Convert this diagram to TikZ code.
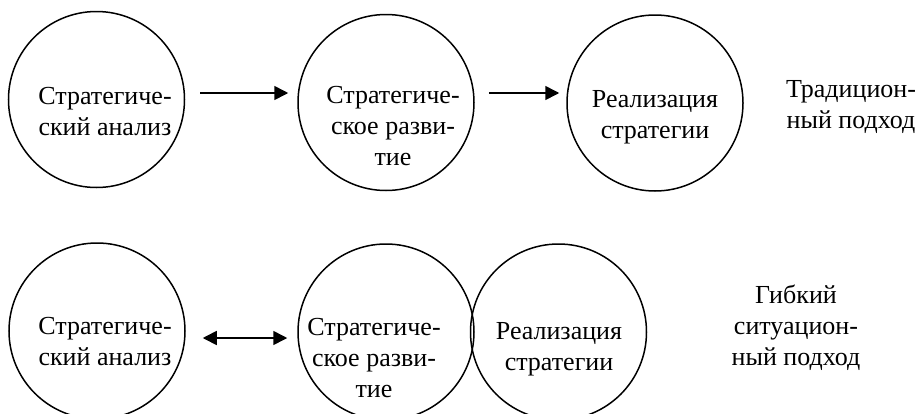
\documentclass[tikz,border=0pt]{standalone}
\usepackage{fontspec}
\setmainfont{Liberation Serif}
\usetikzlibrary{arrows.meta}

\begin{document}
\begin{tikzpicture}[x=1pt,y=-1pt,
  stage/.style={draw,circle,line width=1.5pt,minimum size=176pt,inner sep=0pt},
  txt/.style={align=center,font=\fontsize{26}{31}\selectfont,anchor=base},
  arr/.style={-{Triangle[length=14pt,width=14pt]},line width=1.6pt},
  darr/.style={{Triangle[length=14pt,width=14pt]}-{Triangle[length=14pt,width=14pt]},line width=1.6pt}]
\clip (0,0) rectangle (919,413);
% traditional approach
\node[stage] (sa1) at (96.5,99.5) {};
\node[stage] (sd1) at (386,102.5) {};
\node[stage] (sr1) at (655,103) {};
\node[txt] (ta1) at (105,135) {Стратегиче-\\ский анализ};
\node[txt] (td1) at (393,165) {Стратегиче-\\ское разви-\\тие};
\node[txt] (tr1) at (655,138) {Реализация\\стратегии};
\node[txt] (tt1) at (851,128) {Традицион-\\ный подход};
\draw[arr,shorten <=15pt,shorten >=9pt] ([yshift=6.5pt]sa1.east) -- ([yshift=6.5pt]sa1.east -| sd1.west);
\draw[arr,shorten <=14pt,shorten >=7pt] ([yshift=9.5pt]sd1.east) -- ([yshift=9.5pt]sd1.east -| sr1.west);
% flexible approach
\node[stage] (sa2) at (97,331) {};
\node[stage] (sd2) at (386,332) {};
\node[stage] (sr2) at (558.5,332) {};
\node[txt] (ta2) at (105,365) {Стратегиче-\\ский анализ};
\node[txt] (td2) at (374,397) {Стратегиче-\\ское разви-\\тие};
\node[txt] (tr2) at (559,370) {Реализация\\стратегии};
\node[txt] (tt2) at (796,365) {Гибкий\\ситуацион-\\ный подход};
\draw[darr,shorten <=17pt,shorten >=10pt] ([yshift=-7pt]sa2.east) -- ([yshift=-7pt]sa2.east -| sd2.west);
\end{tikzpicture}
\end{document}
